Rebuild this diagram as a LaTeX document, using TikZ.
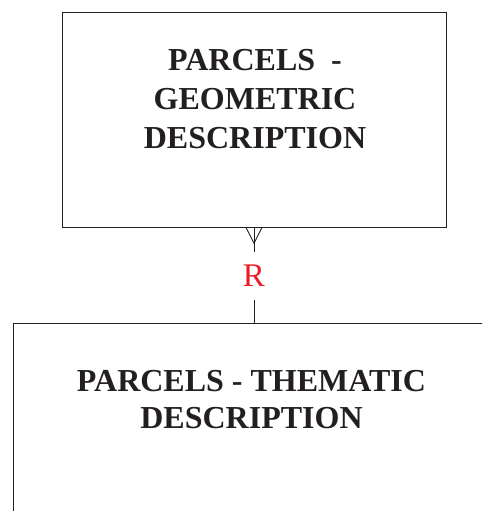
\documentclass[tikz,border=0pt]{standalone}
\usepackage{fontspec}
\setmainfont{Liberation Serif}
\usetikzlibrary{calc}
\definecolor{ink}{HTML}{231F20}
\definecolor{rred}{HTML}{ED1C24}
\begin{document}
\begin{tikzpicture}[x=1pt,y=1pt,
  entity/.style={draw=ink,line width=0.9pt,inner sep=0pt},
  title/.style={font=\fontsize{32}{39}\selectfont\bfseries,text=ink,align=center,inner sep=0pt},
  conn/.style={draw=ink,line width=0.9pt}]
\useasboundingbox (0,0) rectangle (482,-511);
\node[entity,minimum width=384,minimum height=215] (geo) at (254,-119.5) {};
\node[title] (geotxt) at (255,-99) {PARCELS\ \ -\\GEOMETRIC\\DESCRIPTION};
\begin{scope}
\clip (0,0) rectangle (482,-511);
\node[entity,minimum width=486,minimum height=260,anchor=north west] (them) at (13,-323) {};
\end{scope}
\node[title,font=\fontsize{32}{37}\selectfont\bfseries] (themtxt) at (251.5,-400) {PARCELS - THEMATIC\\DESCRIPTION};
\node[text=rred,font=\fontsize{33}{33}\selectfont,inner sep=0pt] (rlab) at (254,-276) {R};
\coordinate (foot) at ($(geo.south)+(0,-16)$);
\draw[conn] (geo.south) -- ++(0,-25);
\draw[conn] ($(geo.south)+(-8,0)$) -- (foot) -- ($(geo.south)+(8,0)$);
\draw[conn] ($(rlab.center)+(0,-24)$) -- (them.north west -| rlab);
\end{tikzpicture}
\end{document}
